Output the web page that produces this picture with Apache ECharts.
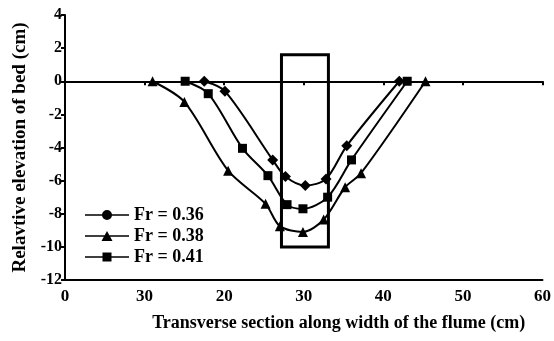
<!DOCTYPE html>
<html>
<head>
<meta charset="utf-8">
<script src="https://cdn.jsdelivr.net/npm/echarts@6/dist/echarts.min.js"></script>
<style>
  html, body { margin: 0; padding: 0; background: #fff; }
  #chart { width: 554px; height: 341px; }
</style>
</head>
<body>
<div id="chart"></div>
<script>
// tick labels as printed in the figure (second one really reads "30")
const xTickLabels = ["0", "30", "20", "30", "40", "50", "60"]

const seriesNames = ["Fr = 0.36", "Fr = 0.38", "Fr = 0.41"]

// Fr = 0.36
const fr036X = [17.5, 20.1, 26.1, 27.7, 30.2, 32.8, 35.4, 42.0]
const fr036Y = [0, -0.6, -4.75, -5.75, -6.3, -5.9, -3.9, 0]

// Fr = 0.38
const fr038X = [11.0, 15.0, 20.5, 25.2, 27.0, 29.9, 32.5, 35.2, 37.2, 45.3]
const fr038Y = [0, -1.25, -5.4, -7.4, -8.75, -9.1, -8.35, -6.4, -5.55, 0]

// Fr = 0.41
const fr041X = [15.1, 18.0, 22.3, 25.5, 27.9, 29.9, 33.0, 36.0, 43.0]
const fr041Y = [0, -0.75, -4.05, -5.7, -7.45, -7.7, -7.0, -4.75, 0]

// highlighted box (x from, x to, y top, y bottom)
const boxX = [27.2, 33.1]
const boxY = [1.6, -10.0]

const font = "Liberation Serif"

function pairs(xs, ys) {
  return xs.map((x, i) => [x, ys[i]])
}

const chart = echarts.init(document.getElementById("chart"))

// line + marker, drawn in a 44x10 box
const legendIcons = [
  "path://M0,4.2H44V5.8H0Z M17,5A5,5 0 1,1 27,5A5,5 0 1,1 17,5Z",
  "path://M0,4.2H44V5.8H0Z M22,0L27.5,10H16.5Z",
  "path://M0,4.2H44V5.8H0Z M17.5,0.5H26.5V9.5H17.5Z"
]

const option = {
  animation: false,
  backgroundColor: "#fff",
  grid: {
    left: 65,
    right: 8,
    top: 15,
    bottom: 61
  },
  legend: {
    orient: "vertical",
    left: 80,
    top: 201,
    itemWidth: 44,
    itemHeight: 10,
    itemGap: 3,
    data: seriesNames.map((n, i) => ({ name: n, icon: legendIcons[i] })),
    textStyle: {
      fontFamily: font,
      fontWeight: "bold",
      fontSize: 18,
      color: "#000"
    }
  },
  xAxis: [
    {
      type: "value",
      min: 0,
      max: 60,
      interval: 10,
      position: "bottom",
      axisLine: { onZero: false, lineStyle: { color: "#000", width: 2 } },
      axisTick: { show: false },
      splitLine: { show: false },
      axisLabel: {
        margin: 8,
        color: "#000",
        fontFamily: font,
        fontWeight: "bold",
        fontSize: 17,
        formatter: v => xTickLabels[Math.round(v / 10)]
      },
      name: "Transverse section along width of the flume (cm)",
      nameLocation: "middle",
      nameGap: 34,
      nameTextStyle: {
        color: "#000",
        fontFamily: font,
        fontWeight: "bold",
        fontSize: 18,
        padding: [0, 0, 0, 70]
      }
    },
    {
      // the line through zero with its small ticks
      type: "value",
      min: 0,
      max: 60,
      interval: 10,
      position: "top",
      axisLine: { onZero: true, lineStyle: { color: "#000", width: 2 } },
      axisTick: { show: true, inside: true, length: 4, lineStyle: { color: "#000", width: 2 } },
      axisLabel: { show: false },
      splitLine: { show: false }
    }
  ],
  yAxis: {
    type: "value",
    min: -12,
    max: 4,
    interval: 2,
    axisLine: { show: true, lineStyle: { color: "#000", width: 2 } },
    axisTick: { show: true, length: 4, lineStyle: { color: "#000", width: 2 } },
    splitLine: { show: false },
    axisLabel: {
      margin: 3,
      color: "#000",
      fontFamily: font,
      fontWeight: "bold",
      fontSize: 16
    },
    name: "Relavtive elevation of bed (cm)",
    nameLocation: "middle",
    nameRotate: 90,
    nameGap: 34,
    nameTextStyle: {
      color: "#000",
      fontFamily: font,
      fontWeight: "bold",
      fontSize: 19
    }
  },
  series: [
    {
      name: seriesNames[0],
      type: "line",
      data: pairs(fr036X, fr036Y),
      smooth: 0.3,
      symbol: "diamond",
      symbolSize: 11,
      color: "#000",
      lineStyle: { width: 2, color: "#000" },
      markArea: {
        silent: true,
        itemStyle: { color: "rgba(0,0,0,0)", borderColor: "#000", borderWidth: 3 },
        data: [[{ coord: [boxX[0], boxY[0]] }, { coord: [boxX[1], boxY[1]] }]]
      }
    },
    {
      name: seriesNames[1],
      type: "line",
      data: pairs(fr038X, fr038Y),
      smooth: 0.3,
      symbol: "triangle",
      symbolSize: 10,
      color: "#000",
      lineStyle: { width: 2, color: "#000" }
    },
    {
      name: seriesNames[2],
      type: "line",
      data: pairs(fr041X, fr041Y),
      smooth: 0.3,
      symbol: "rect",
      symbolSize: 9,
      color: "#000",
      lineStyle: { width: 2, color: "#000" }
    }
  ]
}

chart.setOption(option)
</script>
</body>
</html>
